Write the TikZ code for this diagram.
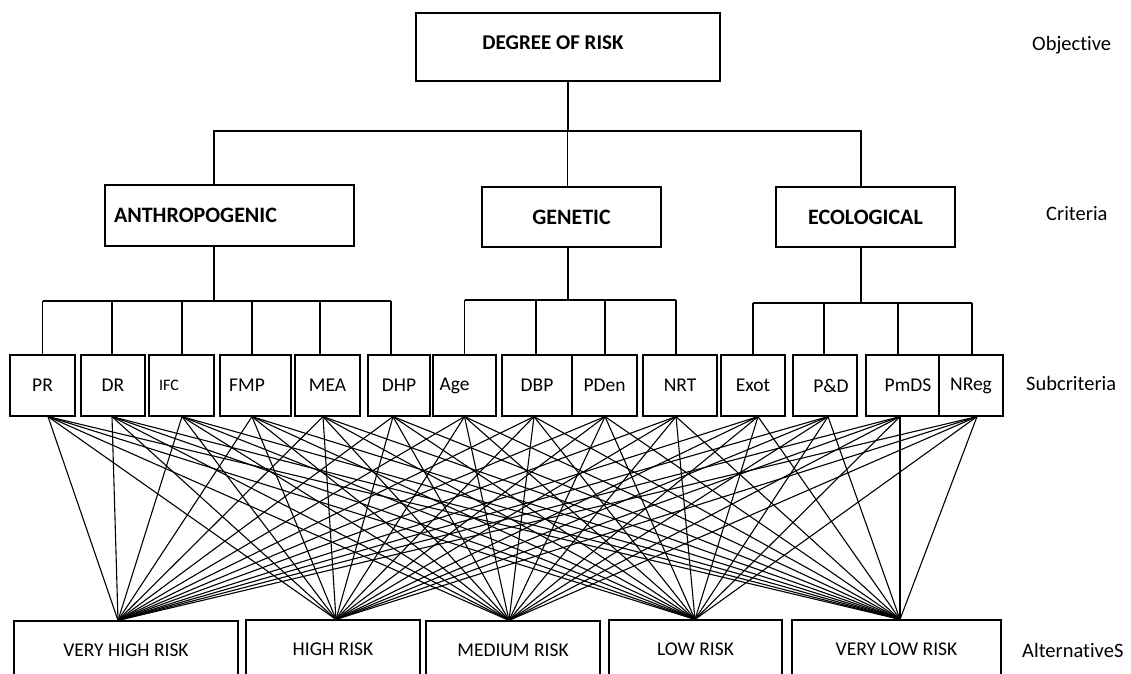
\documentclass[tikz,border=0pt]{standalone}
\usepackage{fontspec}
\setmainfont{Carlito}[Ligatures=CommonOff]
\begin{document}
\begin{tikzpicture}[x=1pt,y=-1pt,
  bx/.style={draw, line width=1.2pt, inner sep=0pt, font=\fontsize{19.5}{22}\selectfont},
  bbx/.style={draw, line width=1.2pt, inner sep=0pt, font=\fontsize{22}{25}\selectfont\bfseries},
  lvl/.style={anchor=west, inner sep=0pt, font=\fontsize{20.5}{24}\selectfont},
  ln/.style={line width=1.1pt}]
\clip (0,0) rectangle (1131,673);
\useasboundingbox (0,0) rectangle (1131,673);
% objective
\node[bbx, minimum width=304pt, minimum height=68pt, font=\fontsize{21}{24}\selectfont\bfseries] (D) at (568,47) {\raisebox{8pt}{DEGREE OF RISK}\kern30pt};
% criteria
\node[bbx, minimum width=249pt, minimum height=61pt] (A) at (229.5,215.5) {ANTHROPOGENIC\kern68pt};
\node[bbx, minimum width=179pt, minimum height=60pt] (G) at (571.5,217) {GENETIC};
\node[bbx, minimum width=179pt, minimum height=60pt] (E) at (865.5,217) {ECOLOGICAL};
% subcriteria
\node[bx, minimum width=65pt, minimum height=61pt] (PR) at (42.5,385.5) {PR};
\node[bx, minimum width=64pt, minimum height=61pt] (DR) at (113,385.5) {DR};
\node[bx, minimum width=65pt, minimum height=61pt, font=\fontsize{16}{19}\selectfont] (IFC) at (181.5,385.5) {IFC\kern25pt};
\node[bx, minimum width=71pt, minimum height=61pt] (FMP) at (255.5,385.5) {FMP\kern17pt};
\node[bx, minimum width=65pt, minimum height=61pt] (MEA) at (327.5,385.5) {MEA};
\node[bx, minimum width=62pt, minimum height=61pt] (DHP) at (399,385.5) {DHP};
\node[bx, minimum width=63pt, minimum height=61pt] (Age) at (464.5,385.5) {Age\kern20pt};
\node[bx, minimum width=70pt, minimum height=61pt] (DBP) at (537,385.5) {DBP};
\node[bx, minimum width=65pt, minimum height=61pt] (PDen) at (604.5,385.5) {PDen};
\node[bx, minimum width=74pt, minimum height=61pt] (NRT) at (680,385.5) {NRT};
\node[bx, minimum width=64pt, minimum height=61pt] (Exot) at (753,385.5) {Exot};
\node[bx, minimum width=64pt, minimum height=61pt] (PD) at (825,385.5) {\kern12pt P\&D};
\node[bx, minimum width=73pt, minimum height=61pt] (PmDS) at (902.5,385.5) {\kern11pt PmDS};
\node[bx, minimum width=64pt, minimum height=61pt] (NReg) at (971,385.5) {NReg};
% alternatives
\node[bx, minimum width=224pt, minimum height=58pt] (VHR) at (126,650) {VERY HIGH RISK};
\node[bx, minimum width=174pt, minimum height=58pt] (HIGH) at (333,649) {HIGH RISK};
\node[bx, minimum width=174pt, minimum height=58pt] (MED) at (513,650) {MEDIUM RISK};
\node[bx, minimum width=173pt, minimum height=58pt] (LOW) at (695.5,649) {LOW RISK};
\node[bx, minimum width=209pt, minimum height=58pt] (VLOW) at (896.5,649) {VERY LOW RISK};
% level labels
\node[lvl] (lo) at (1032,45) {Objective};
\node[lvl] (lc) at (1046,214) {Criteria};
\node[lvl] (ls) at (1026,383) {Subcriteria};
\node[lvl] (la) at (1022,650) {AlternativeS};
% hierarchy connectors
\coordinate (top) at (568,131);
\coordinate (ha) at (0,301);
\coordinate (hg) at (0,300);
\coordinate (he) at (0,303);
\draw[ln] (D.south) -- (D.south |- top);
\draw[ln] ([xshift=-15.5pt]A.north) -- ([xshift=-15.5pt]A.north |- top) -- ([xshift=-4.5pt]E.north |- top) -- ([xshift=-4.5pt]E.north);
\draw[ln] ([xshift=-4pt]G.north) -- ([xshift=-4pt]G.north |- top);
% anthropogenic
\draw[ln] ([xshift=-15.5pt]A.south) -- ([xshift=-15.5pt]A.south |- ha);
\draw[ln] (PR.north |- ha) -- ([xshift=-8pt]DHP.north |- ha);
\foreach \n/\o in {PR/0, DR/-1, IFC/0.5, FMP/-3.5, MEA/-7.5, DHP/-8}
  \draw[ln] ([xshift=\o pt]\n.north) -- ([xshift=\o pt]\n.north |- ha);
% genetic
\draw[ln] ([xshift=-3.5pt]G.south) -- ([xshift=-3.5pt]G.south |- hg);
\draw[ln] (Age.north |- hg) -- ([xshift=-4pt]NRT.north |- hg);
\foreach \n/\o in {Age/0, DBP/-1, PDen/0.5, NRT/-4}
  \draw[ln] ([xshift=\o pt]\n.north) -- ([xshift=\o pt]\n.north |- hg);
% ecological
\draw[ln] ([xshift=-4.5pt]E.south) -- ([xshift=-4.5pt]E.south |- he);
\draw[ln] (Exot.north |- he) -- ([xshift=1pt]NReg.north |- he);
\foreach \n/\o in {Exot/0, PD/-1, PmDS/-4.5, NReg/1}
  \draw[ln] ([xshift=\o pt]\n.north) -- ([xshift=\o pt]\n.north |- he);
% subcriteria to alternatives
\foreach \s/\o in {PR/5.5, DR/-1, IFC/0.5, FMP/-3.5, MEA/-4.5, DHP/-6, Age/0, DBP/-3, PDen/0.5, NRT/-4, Exot/5, PD/3, PmDS/-2.5, NReg/6}
  \foreach \a/\p in {VHR/-8, HIGH/3, MED/-4, LOW/-0.5, VLOW/3.5}
    \draw[ln] ([xshift=\o pt]\s.south) -- ([xshift=\p pt]\a.north);
\end{tikzpicture}
\end{document}
